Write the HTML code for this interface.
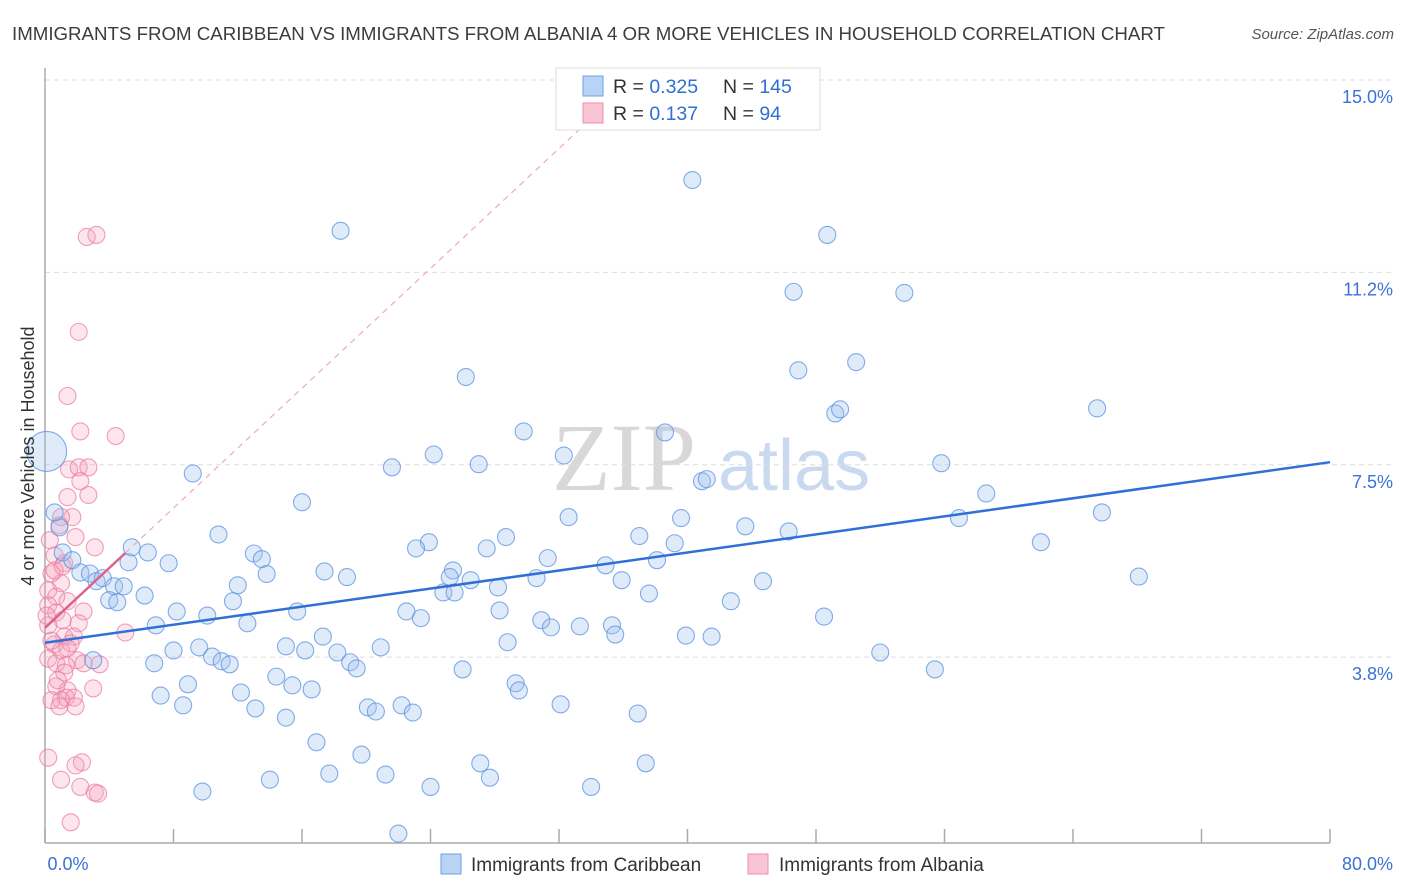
<!DOCTYPE html>
<html><head><meta charset="utf-8"><style>
body{margin:0;background:#fff;font-family:"Liberation Sans",sans-serif;}
#wrap{position:relative;width:1406px;height:892px;overflow:hidden;}
</style></head><body>
<div id="wrap">
<svg id="chart" width="1406" height="892" xmlns="http://www.w3.org/2000/svg">
<text x="12" y="40" font-size="18.7" fill="#3c3c3c">IMMIGRANTS FROM CARIBBEAN VS IMMIGRANTS FROM ALBANIA 4 OR MORE VEHICLES IN HOUSEHOLD CORRELATION CHART</text>
<text x="1394" y="39" font-size="15" fill="#555" font-style="italic" text-anchor="end">Source: ZipAtlas.com</text>
<g>
<text x="552" y="490" font-size="96" font-family="Liberation Serif,serif" fill="#d8d8d8">ZIP</text>
<text x="718" y="490" font-size="72" fill="#c9daf0">atlas</text>
</g>
<g id="grid"></g>
<g id="axes"></g>
<g id="marks"></g>
<text x="34" y="456" font-size="18" fill="#333" text-anchor="middle" transform="rotate(-90 34 456)">4 or more Vehicles in Household</text>
<g>
<rect x="556" y="68" width="264" height="62" fill="#fff" stroke="#ddd"/>
<rect x="583" y="76" width="20" height="20" fill="#b9d3f5" stroke="#6f9fe6"/>
<rect x="583" y="103" width="20" height="20" fill="#f9c5d5" stroke="#ec8fae"/>
<text x="613" y="93" font-size="19.5" fill="#333">R = <tspan fill="#2f6fd6">0.325</tspan></text>
<text x="723" y="93" font-size="19.5" fill="#333">N = <tspan fill="#2f6fd6">145</tspan></text>
<text x="613" y="120" font-size="19.5" fill="#333">R =  <tspan fill="#2f6fd6">0.137</tspan></text>
<text x="723" y="120" font-size="19.5" fill="#333">N =  <tspan fill="#2f6fd6"> 94</tspan></text>
</g>
<g>
<rect x="441" y="854" width="20" height="20" fill="#b9d3f5" stroke="#6f9fe6"/>
<text x="471" y="871" font-size="19" fill="#333">Immigrants from Caribbean</text>
<rect x="748" y="854" width="20" height="20" fill="#f9c5d5" stroke="#ec8fae"/>
<text x="779" y="871" font-size="19" fill="#333">Immigrants from Albania</text>
</g>
</svg>
</div>
<script>
const yTicks=[15,11.25,7.5,3.75];
const yTickLabels=["15.0%","11.2%","7.5%","3.8%"];
const xTicks=[0,8,16,24,32,40,48,56,64,72,80];
const xTickLabels=["0.0%","80.0%"];
const blueX=[40.3,18.4,48.7,46.6,53.5,26.2,46.9,50.5,65.5,49.2,49.5,29.8,38.6,24.2,32.3,21.6,27.0,55.8,9.2,40.9,41.2,58.6,16.0,65.8,56.9,32.6,39.6,43.6,46.3,10.8,0.9,0.6,37.0,62.0,28.7,23.9,23.1,27.5,39.2,13.0,13.5,31.3,38.1,34.9,5.2,6.4,7.7,5.4,1.1,1.7,17.4,18.8,13.8,25.4,25.2,30.6,35.9,44.7,68.1,26.5,28.2,2.2,2.8,3.2,3.6,4.3,4.9,4.0,4.5,6.2,12.0,24.8,25.5,37.6,11.7,15.7,22.5,28.3,42.7,48.5,8.2,10.1,6.9,12.6,23.4,30.9,31.5,33.3,35.3,35.5,17.3,28.8,39.9,41.5,9.6,15.0,18.2,8.0,10.4,20.9,16.2,11.0,11.5,19.0,19.4,6.8,3.0,52.0,55.4,26.0,14.4,29.3,8.9,15.4,16.6,7.2,12.2,29.5,8.6,13.1,20.1,20.6,22.2,22.9,32.1,15.0,36.9,16.9,19.7,27.1,37.4,17.7,21.2,14.0,27.7,24.0,34.0,9.8,22.0,0.1];
const blueY=[13.05,12.06,11.98,10.87,10.85,9.21,9.34,9.50,8.60,8.50,8.58,8.15,8.13,7.70,7.68,7.45,7.51,7.53,7.33,7.18,7.22,6.94,6.77,6.57,6.46,6.48,6.46,6.30,6.20,6.14,6.28,6.57,6.11,5.99,6.09,5.99,5.87,5.87,5.97,5.77,5.66,5.68,5.64,5.54,5.60,5.79,5.58,5.89,5.79,5.64,5.42,5.31,5.37,5.44,5.31,5.29,5.25,5.23,5.32,5.25,5.11,5.40,5.38,5.23,5.29,5.13,5.13,4.86,4.82,4.95,5.15,5.01,5.01,4.99,4.84,4.64,4.64,4.66,4.84,4.54,4.64,4.56,4.37,4.41,4.51,4.47,4.33,4.35,4.37,4.19,4.15,4.04,4.17,4.15,3.94,3.96,3.84,3.88,3.76,3.94,3.88,3.67,3.61,3.65,3.53,3.63,3.69,3.84,3.51,3.51,3.37,3.24,3.22,3.20,3.12,3.00,3.06,3.10,2.81,2.75,2.77,2.69,2.81,2.67,2.83,2.57,2.65,2.09,1.85,1.68,1.68,1.48,1.46,1.36,1.40,1.22,1.22,1.13,0.31,7.76];
const blueSize=blueX.map((v,i)=>i===blueX.length-1?20:9);
const pinkX=[2.6,3.2,2.1,1.4,2.2,4.4,1.5,2.1,2.7,2.2,1.4,2.7,1.7,1.0,0.9,1.9,3.1,0.3,0.6,1.2,0.4,1.0,0.2,0.7,1.4,0.2,2.4,0.7,1.1,2.1,0.2,5.0,1.2,1.8,0.6,1.6,1.0,1.4,0.2,2.0,3.4,0.7,1.3,2.4,1.2,0.7,3.0,1.4,1.3,1.8,1.0,0.4,0.9,1.9,0.2,2.3,1.0,1.9,2.2,3.1,3.3,1.6,0.6,1.1,0.1,0.4,0.8];
const pinkY=[11.94,11.98,10.09,8.84,8.15,8.06,7.41,7.45,7.45,7.18,6.87,6.91,6.48,6.48,6.32,6.09,5.89,6.03,5.73,5.58,5.38,5.19,5.05,4.93,4.84,4.76,4.64,4.62,4.47,4.41,4.37,4.23,4.15,4.15,4.00,4.02,3.88,3.92,3.72,3.69,3.61,3.63,3.59,3.63,3.45,3.18,3.14,3.10,2.96,2.96,2.91,2.91,2.79,2.79,1.79,1.70,1.36,1.64,1.22,1.11,1.09,0.53,5.44,5.52,4.56,4.07,3.30];
const blueTrend=[4.03,7.55];   // y at x=0 and x=80
const pinkTrend=[4.32,0.292];  // intercept, slope
const pinkSolidEnd=5, pinkDashEnd=33.9;

const NS="http://www.w3.org/2000/svg";
const X0=45,X1=1330,YTOP=80,YPX=51.3;
function xs(v){return X0+(v/80)*(X1-X0);}
function ys(v){return YTOP+(15-v)*YPX;}
function mk(tag,attrs,parent){const e=document.createElementNS(NS,tag);for(const k in attrs)e.setAttribute(k,attrs[k]);parent.appendChild(e);return e;}
const grid=document.getElementById('grid'),axes=document.getElementById('axes'),marks=document.getElementById('marks');
yTicks.forEach((t,i)=>{
  const l=mk('line',{x1:X0,x2:1395,y1:ys(t),y2:ys(t),stroke:'#ddd','stroke-dasharray':'5,4'},grid);
  
  
  const tx=mk('text',{x:1393,y:ys(t)+23,'font-size':18,fill:'#3a72d8','text-anchor':'end'},axes);
  tx.textContent=yTickLabels[i];
  
  
});
const ya=mk('line',{x1:X0,x2:X0,y1:68,y2:843,stroke:'#aaa','stroke-width':1.5},axes);


const xa=mk('line',{x1:X0,x2:X1,y1:843,y2:843,stroke:'#aaa','stroke-width':1.5},axes);


xTicks.forEach(t=>{
  const l=mk('line',{x1:xs(t),x2:xs(t),y1:829,y2:843,stroke:'#aaa','stroke-width':1.5},axes);
  
  
});
[[xs(0)+23,'middle',xTickLabels[0]],[1393,'end',xTickLabels[1]]].forEach(a=>{
  const tx=mk('text',{x:a[0],y:870,'font-size':18,fill:'#3a72d8','text-anchor':a[1]},axes);
  tx.textContent=a[2];
  
  
});
pinkX.forEach((x,i)=>{
  const c=mk('circle',{cx:xs(x),cy:ys(pinkY[i]),r:8.5,fill:'rgba(246,160,188,0.28)',stroke:'rgba(236,120,160,0.7)','stroke-width':1.1},marks);
  
  
});
blueX.forEach((x,i)=>{
  const c=mk('circle',{cx:xs(x),cy:ys(blueY[i]),r:blueSize[i]===9?8.5:blueSize[i],fill:'rgba(160,195,240,0.33)',stroke:'rgba(90,145,225,0.75)','stroke-width':1.1},marks);
  
  
});
const bt=mk('line',{x1:xs(0),y1:ys(blueTrend[0]),x2:xs(80),y2:ys(blueTrend[1]),stroke:'#2f6fd6','stroke-width':2.5},marks);


const pd=mk('line',{x1:xs(pinkSolidEnd),y1:ys(pinkTrend[0]+pinkTrend[1]*pinkSolidEnd),x2:xs(pinkDashEnd),y2:ys(pinkTrend[0]+pinkTrend[1]*pinkDashEnd),stroke:'#f0a8c0','stroke-width':1.2,'stroke-dasharray':'6,5'},marks);


const pt=mk('line',{x1:xs(0),y1:ys(pinkTrend[0]),x2:xs(pinkSolidEnd),y2:ys(pinkTrend[0]+pinkTrend[1]*pinkSolidEnd),stroke:'#e0608c','stroke-width':2.5},marks);


</script>
</body></html>
